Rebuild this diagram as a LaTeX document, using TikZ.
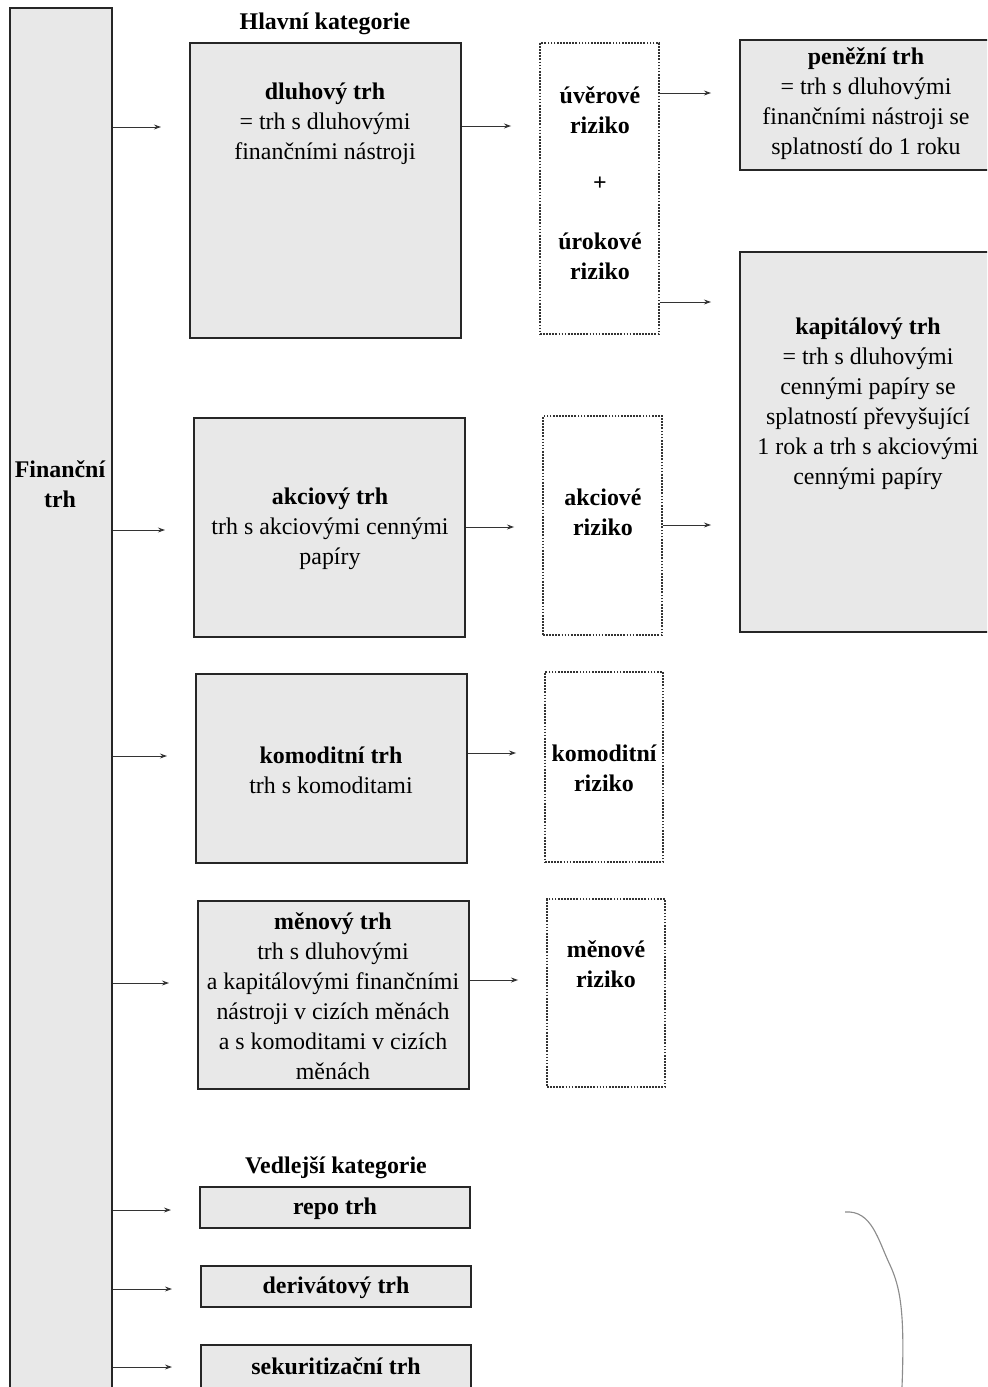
\documentclass[tikz,border=0pt]{standalone}
\usepackage{fontspec}
\setmainfont{Liberation Serif}
\usetikzlibrary{fit,arrows.meta}
\begin{document}
\begin{tikzpicture}[x=0.025cm,y=-0.025cm,
 box/.style={draw=black!85,line width=1.4pt,fill=black!9,inner sep=0pt},
 riskbox/.style={draw=black!80,line width=1.3pt,dash pattern=on 1.2pt off 1pt,fill=white,inner sep=0pt},
 txt/.style={align=center,inner sep=0pt,yshift=-0.05cm,font=\fontsize{17}{21.3}\selectfont},
 btxt/.style={align=center,inner sep=0pt,yshift=-0.05cm,font=\fontsize{17}{21.3}\selectfont\bfseries},
 arr/.style={draw=black!80,line width=0.7pt,-{Stealth[length=5pt,width=3.5pt]},shorten >=0.7cm}]
\useasboundingbox (0,0) rectangle (987,1387);
\fill[white] (0,0) rectangle (987,1387);
\clip (0,0) rectangle (987,1387);

% boxes
\node[box,fit={(10,8)(112,1400)}] (fin) {};
\node[box,fit={(190,43)(461,338)}] (dl) {};
\node[riskbox,fit={(540,43)(659,334)}] (ur) {};
\node[box,fit={(740,40)(1000,170)}] (pen) {};
\node[box,fit={(740,252)(1000,632)}] (kap) {};
\node[box,fit={(194,418)(465,637)}] (ak) {};
\node[riskbox,fit={(543,416)(662,635)}] (akr) {};
\node[box,fit={(196,674)(467,863)}] (ko) {};
\node[riskbox,fit={(545,672)(663,862)}] (kor) {};
\node[box,fit={(198,901)(469,1089)}] (me) {};
\node[riskbox,fit={(547,899)(665,1087)}] (mer) {};
\node[box,fit={(200,1187)(470,1228)}] (repo) {};
\node[box,fit={(201,1266)(471,1307)}] (der) {};
\node[box,fit={(201,1345)(471,1400)}] (sek) {};

% texts
\node[btxt] (hk) at (325,22) {Hlavní kategorie};
\node[btxt] (vk) at (336,1166) {Vedlejší kategorie};
\node[btxt] (fint) at (60,482) {Finanční\\trh};
\node[txt] (dlt) at (325,121.5) {\textbf{dluhový trh}\\= trh s dluhovými\\finančními nástroji};
\node[btxt] (urt1) at (600,108) {úvěrové\\riziko};
\node[btxt] (plus) at (600,182) {+};
\node[btxt] (urt2) at (600,254) {úrokové\\riziko};
\node[txt] (pent) at (866,102) {\textbf{peněžní trh}\\= trh s dluhovými\\finančními nástroji se\\splatností do 1 roku};
\node[txt] (kapt) at (868,402) {\textbf{kapitálový trh}\\= trh s dluhovými\\cennými papíry se\\splatností převyšující\\1 rok a trh s akciovými\\cennými papíry};
\node[txt] (akt) at (330,527) {\textbf{akciový trh}\\trh s akciovými cennými\\papíry};
\node[btxt] (akrt) at (603,510) {akciové\\riziko};
\node[txt] (kot) at (331,768) {\textbf{komoditní trh}\\trh s komoditami};
\node[btxt] (kort) at (604,766) {komoditní\\riziko};
\node[txt] (met) at (333,994) {\textbf{měnový trh}\\trh s dluhovými\\a kapitálovými finančními\\nástroji v cizích měnách\\a s komoditami v cizích\\měnách};
\node[btxt] (mert) at (606,962) {měnové\\riziko};
\node[btxt] (repot) at (335,1207) {repo trh};
\node[btxt] (dert) at (336,1286) {derivátový trh};
\node[btxt] (sekt) at (336,1364) {sekuritizační trh};

% arrow rows
\coordinate (r1) at (0,127);
\coordinate (r2) at (0,530);
\coordinate (r3) at (0,756);
\coordinate (r4) at (0,983);
\coordinate (r5) at (0,1210);
\coordinate (r6) at (0,1289);
\coordinate (r7) at (0,1367);
\coordinate (s1) at (0,126);
\coordinate (s2) at (0,527);
\coordinate (s3) at (0,753);
\coordinate (s4) at (0,980);
\coordinate (t1) at (0,93);
\coordinate (t2) at (0,302);
\coordinate (t3) at (0,525);

\draw[arr] (fin.east |- r1) -- (dl.west |- r1);
\draw[arr] (fin.east |- r2) -- (ak.west |- r2);
\draw[arr] (fin.east |- r3) -- (ko.west |- r3);
\draw[arr] (fin.east |- r4) -- (me.west |- r4);
\draw[arr] (fin.east |- r5) -- (repo.west |- r5);
\draw[arr] (fin.east |- r6) -- (der.west |- r6);
\draw[arr] (fin.east |- r7) -- (sek.west |- r7);

\draw[arr] (dl.east |- s1) -- (ur.west |- s1);
\draw[arr] (ak.east |- s2) -- (akr.west |- s2);
\draw[arr] (ko.east |- s3) -- (kor.west |- s3);
\draw[arr] (me.east |- s4) -- (mer.west |- s4);

\draw[arr] (ur.east |- t1) -- (pen.west |- t1);
\draw[arr] (ur.east |- t2) -- (kap.west |- t2);
\draw[arr] (akr.east |- t3) -- (kap.west |- t3);

% stray pen mark
\draw[black!45,line width=0.8pt] (845,1212) .. controls (872,1210) and (878,1240) .. (890,1265) .. controls (900,1287) and (905,1310) .. (902,1387);
\end{tikzpicture}
\end{document}
